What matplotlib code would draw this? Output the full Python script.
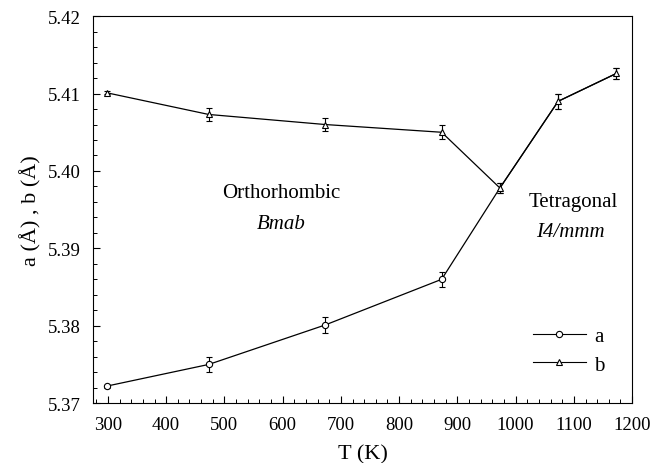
import matplotlib.pyplot as plt
from matplotlib.ticker import MultipleLocator
from matplotlib.lines import Line2D

plt.rcParams['font.family'] = ['Liberation Serif', 'DejaVu Serif']

T = [298, 473, 673, 873, 973, 1073, 1173]
a_vals = [5.3722, 5.3750, 5.3801, 5.3860, 5.3978, 5.4090, 5.4126]
a_err = [0.0002, 0.0010, 0.0010, 0.0010, 0.0007, 0.0010, 0.0007]
b_vals = [5.4101, 5.4073, 5.4060, 5.4050, 5.3978, 5.4090, 5.4126]
b_err = [0.0002, 0.0008, 0.0008, 0.0009, 0.0007, 0.0010, 0.0007]

fig, ax = plt.subplots(figsize=(6.53, 4.64), dpi=100)
fig.subplots_adjust(left=0.143, right=0.968, top=0.963, bottom=0.129)

ax.errorbar(T, a_vals, yerr=a_err, color='black', lw=0.9, marker='o', ms=4.5,
            mfc='white', mec='black', mew=0.8, capsize=2.5, elinewidth=0.8,
            capthick=0.8, markevery=[0, 1, 2, 3])
ax.errorbar(T, b_vals, yerr=b_err, color='black', lw=0.9, marker='^', ms=4.5,
            mfc='white', mec='black', mew=0.8, capsize=2.5, elinewidth=0.8,
            capthick=0.8)

ax.set_xlim(275, 1200)
ax.set_ylim(5.37, 5.42)
ax.xaxis.set_major_locator(MultipleLocator(100))
ax.xaxis.set_minor_locator(MultipleLocator(20))
ax.yaxis.set_major_locator(MultipleLocator(0.01))
ax.yaxis.set_minor_locator(MultipleLocator(0.002))
ax.yaxis.set_major_formatter(plt.FormatStrFormatter('%.2f'))
ax.tick_params(which='both', direction='in', top=False, right=False, labelsize=13.5)
ax.tick_params(axis='y', which='major', pad=9)
ax.tick_params(axis='x', which='major', pad=9)
ax.tick_params(which='major', length=5, width=0.8)
ax.tick_params(which='minor', length=3, width=0.7)
for s in ax.spines.values():
    s.set_linewidth(0.8)

ax.set_xlabel('T (K)', fontsize=16, labelpad=8)
ax.set_ylabel('a (Å) , b (Å)', fontsize=16, labelpad=5)

ax.text(0.349, 0.545, 'Orthorhombic', transform=ax.transAxes, ha='center',
        va='center', fontsize=15)
ax.text(0.349, 0.463, 'Bmab', transform=ax.transAxes, ha='center',
        va='center', fontsize=15, style='italic')
ax.text(0.891, 0.522, 'Tetragonal', transform=ax.transAxes, ha='center',
        va='center', fontsize=15)
ax.text(0.885, 0.444, 'I4/mmm', transform=ax.transAxes, ha='center',
        va='center', fontsize=15, style='italic')

handles = [
    Line2D([], [], color='black', lw=0.8, marker='o', ms=4.5, mfc='white', mew=0.8),
    Line2D([], [], color='black', lw=0.8, marker='^', ms=4.5, mfc='white', mew=0.8),
]
ax.legend(handles, ['a', 'b'], loc='lower right', bbox_to_anchor=(0.984, 0.025),
          frameon=False, fontsize=15, handlelength=2.55, handletextpad=0.4,
          labelspacing=0.42)

fig.savefig('out.png', dpi=100)
